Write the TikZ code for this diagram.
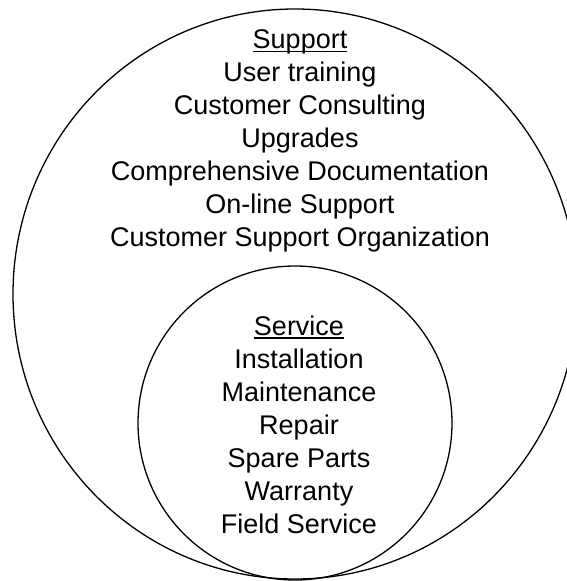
\documentclass[tikz,border=0pt]{standalone}
\usepackage{fontspec}
\setmainfont{Liberation Sans}
\newcommand\ulword[1]{\setbox0\hbox{#1}\rlap{\rule[-3.6pt]{\wd0}{1.6pt}}\box0}
\begin{document}
\begin{tikzpicture}[x=1pt,y=-1pt,
  ring/.style={draw=black, line width=1.3pt},
  listtext/.style={anchor=north, inner sep=0pt, align=center,
    font=\fontsize{27}{33}\selectfont}]
\useasboundingbox (0,0) rectangle (567,581);
\begin{scope}
\clip (0,0) rectangle (567,581);
\draw[ring] (295,294) ellipse [x radius=282pt, y radius=285pt];
\draw[ring] (295,423) circle [radius=157pt];
\end{scope}
\node[listtext] (support) at (300,25.4) {\strut\ulword{Support}\\User training\\Customer Consulting\\Upgrades\\Comprehensive Documentation\\On-line Support\\Customer Support Organization};
\node[listtext] (service) at (299,311.9) {\strut\ulword{Service}\\Installation\\Maintenance\\Repair\\Spare Parts\\Warranty\\Field Service};
\end{tikzpicture}
\end{document}
